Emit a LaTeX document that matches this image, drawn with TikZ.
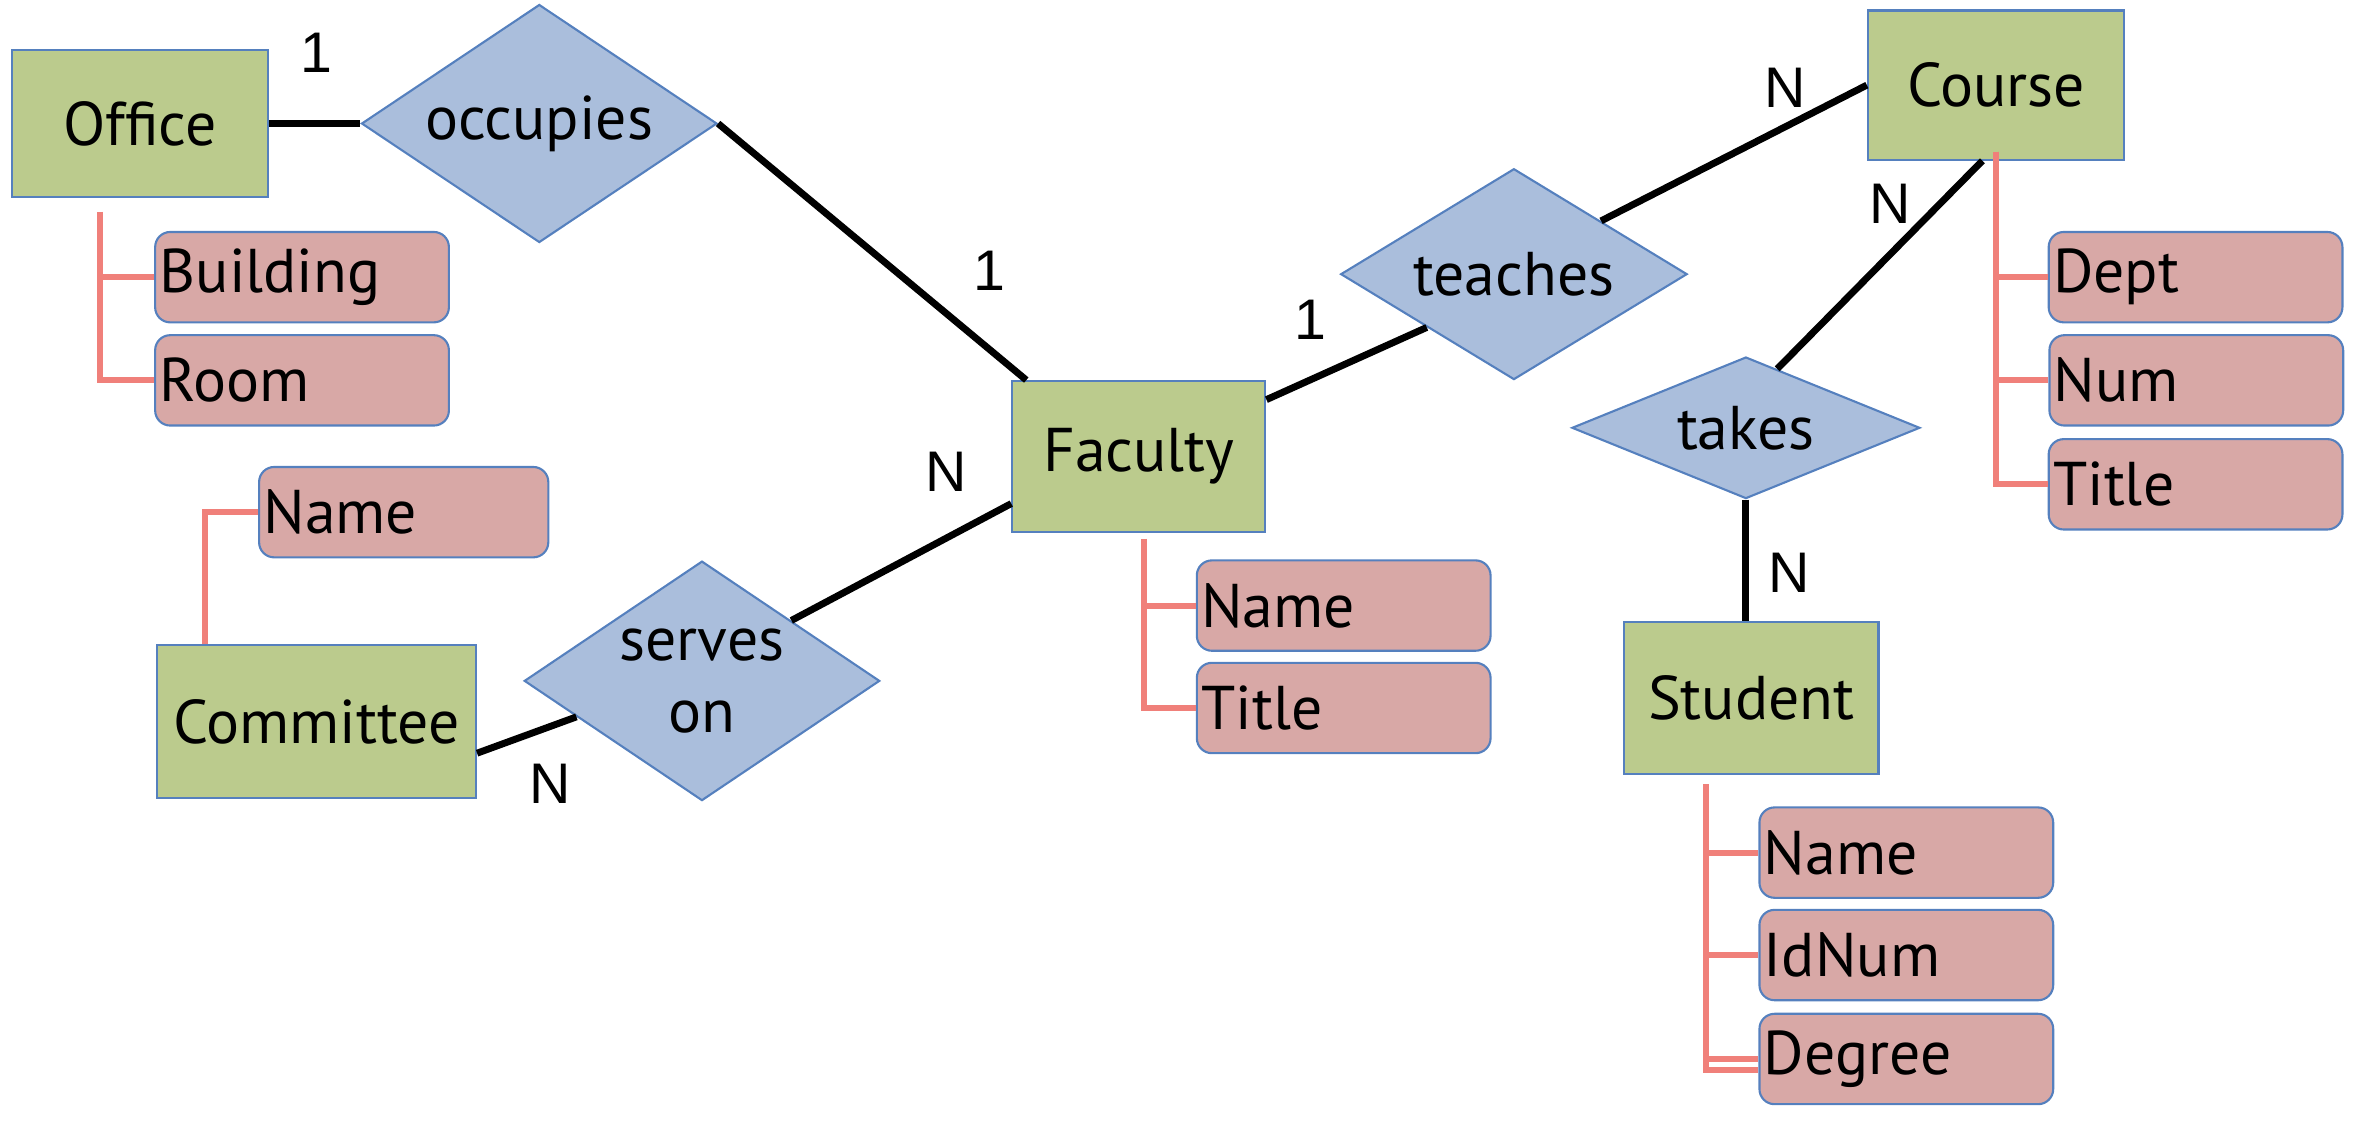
\documentclass[tikz,border=0pt]{standalone}
\usepackage{fontspec}
\setmainfont{PT Sans}
\newfontfamily\labfont{Liberation Sans}
\usetikzlibrary{shapes.geometric,calc}
\definecolor{entfill}{RGB}{187,203,141}
\definecolor{relfill}{RGB}{170,190,220}
\definecolor{attfill}{RGB}{216,168,166}
\definecolor{bordblue}{RGB}{85,128,190}
\definecolor{attline}{RGB}{240,128,122}
\begin{document}
\begin{tikzpicture}[x=1pt,y=-1pt,
  every node/.style={font=\fontsize{41}{48}\selectfont},
  ent/.style={draw=bordblue, line width=1.4pt, fill=entfill, inner sep=0pt},
  rel/.style={diamond, draw=bordblue, line width=1.4pt, fill=relfill, inner sep=0pt},
  att/.style={draw=bordblue, line width=1.4pt, fill=attfill, rounded corners=10pt,
              minimum width=195pt, minimum height=60pt, text width=189pt, align=left,
              inner xsep=3pt, inner ysep=0pt},
  conn/.style={line width=4.6pt, black},
  attconn/.style={line width=4pt, attline},
  card/.style={font=\labfont\fontsize{38}{42}\selectfont, inner sep=0pt}]
\useasboundingbox (0,0) rectangle (1568,746);

% entities
\node[ent, minimum width=170pt, minimum height=98pt] (office) at (93,82) {Office};
\node[ent, minimum width=168pt, minimum height=100pt] (faculty) at (756,303) {Faculty};
\node[ent, minimum width=170pt, minimum height=99pt] (course) at (1325,56.5) {Course};
\node[ent, minimum width=169pt, minimum height=101pt] (student) at (1162.5,463.5) {Student};
\node[ent, minimum width=212pt, minimum height=102pt] (committee) at (210,479) {Committee};

% relationships
\node[rel, minimum width=236pt, minimum height=158pt, aspect=1.5] (occupies) at (358,82) {occupies};
\node[rel, minimum width=230pt, minimum height=140pt, aspect=1.64] (teaches) at (1005,182) {teaches};
\node[rel, minimum width=231pt, minimum height=94pt, aspect=2.5] (takes) at (1159,284) {takes};
\node[rel, minimum width=236pt, minimum height=159pt,
      label={[font=\fontsize{41}{48}\selectfont, align=center]center:serves\\on}] (serves) at (466,452) {};

% attributes
\node[att] (building) at (200.5,184) {Building};
\node[att] (room) at (200.5,252.5) {Room};
\node[att] (fname) at (892,402) {Name};
\node[att] (ftitle) at (892,470) {Title};
\node[att] (dept) at (1457.5,184) {Dept};
\node[att] (num) at (1458,252.5) {Num};
\node[att] (ctitle) at (1457.5,321.5) {Title};
\node[att] (sname) at (1265.5,566) {Name};
\node[att] (idnum) at (1265.5,634) {IdNum};
\node[att] (degree) at (1265.5,703) {Degree};
\node[att, minimum width=192pt, text width=186pt] (cname) at (268,340) {Name};

% relationship connectors
\draw[conn] (office.east) -- (occupies.west);
\draw[conn] (occupies.east) -- ($(faculty.north west)+(10,0)$);
\draw[conn] ($(faculty.north east)+(0,13)$) -- (teaches.south west);
\draw[conn] (teaches.north east) -- (course.west);
\draw[conn] ($(course.south)+(-9,0)$) -- (takes.62);
\draw[conn] (takes.south) -- (takes.south |- student.north);
\draw[conn] ($(committee.east)+(0,21)$) -- (serves.196);
\draw[conn] (serves.north east) -- ($(faculty.north west)+(0,82)$);

% attribute connectors
\coordinate (oa) at ($(office.south west)+(59,9)$);
\draw[attconn] (oa) |- (building.west);
\draw[attconn] (oa) |- (room.west);
\coordinate (fa) at ($(faculty.south west)+(88,4)$);
\draw[attconn] (fa) |- (fname.west);
\draw[attconn] (fa) |- (ftitle.west);
\coordinate (ca) at ($(course.south)+(0,-6)$);
\draw[attconn] (ca) |- (dept.west);
\draw[attconn] (ca) |- (num.west);
\draw[attconn] (ca) |- (ctitle.west);
\coordinate (sa) at ($(student.south west)+(55,6)$);
\draw[attconn] (sa) |- (sname.west);
\draw[attconn] (sa) |- (idnum.west);
\draw[attconn] (sa) |- ($(degree.west)+(0,7)$);
\draw[attconn] (sa |- degree.west) -- (degree.west);
\coordinate (ma) at ($(committee.north west)+(33,0)$);
\draw[attconn] (ma) |- (cname.west);

% cardinalities
\node[card] (c1) at (210,35) {1};
\node[card] (c2) at (657,180) {1};
\node[card] (c3) at (870,212) {1};
\node[card] (c4) at (1185,58) {N};
\node[card] (c5) at (1255,135) {N};
\node[card] (c6) at (1188,380) {N};
\node[card] (c7) at (628,313) {N};
\node[card] (c8) at (365,520) {N};
\end{tikzpicture}
\end{document}
